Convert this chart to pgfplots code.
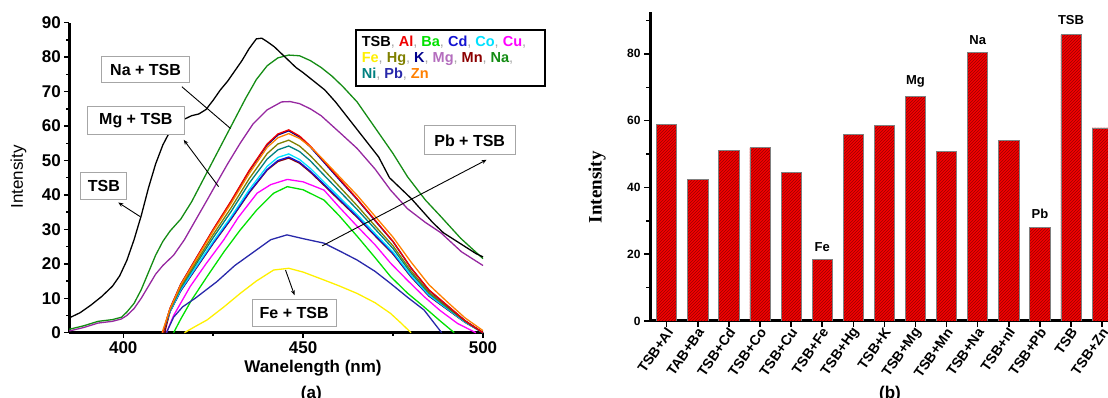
\documentclass[border=0pt]{standalone}
\usepackage{fontspec}
\setmainfont{Liberation Sans}
\newfontfamily\timesfont{Liberation Serif}
\usepackage{pgfplots}
\pgfplotsset{compat=1.18}
\usetikzlibrary{patterns,arrows.meta}
\pgfplotsset{/pgf/number format/assume math mode=true}

\definecolor{colTSB}{RGB}{0,0,0}
\definecolor{colAl}{RGB}{240,0,0}
\definecolor{colBa}{RGB}{0,225,0}
\definecolor{colCd}{RGB}{20,20,210}
\definecolor{colCo}{RGB}{0,225,255}
\definecolor{colCu}{RGB}{255,0,255}
\definecolor{colFe}{RGB}{255,240,0}
\definecolor{colHg}{RGB}{128,128,0}
\definecolor{colK}{RGB}{0,0,140}
\definecolor{colMg}{RGB}{150,40,160}
\definecolor{colMgT}{RGB}{180,110,190}
\definecolor{colMn}{RGB}{140,0,0}
\definecolor{colNa}{RGB}{20,140,20}
\definecolor{colNi}{RGB}{0,128,128}
\definecolor{colPb}{RGB}{40,40,170}
\definecolor{colZn}{RGB}{255,128,0}
\definecolor{barred}{RGB}{245,0,0}
\newcommand{\cma}{{\color{gray!70}\mdseries,}}

\begin{document}
\begin{tikzpicture}
\useasboundingbox (0,0) rectangle (1108pt,398pt);
% ---------------- panel (a) ----------------
\begin{axis}[
  at={(69.3pt,65.3pt)}, anchor=south west,
  scale only axis, width=413.7pt, height=310pt,
  xmin=385, xmax=500, ymin=0, ymax=90,
  clip=false,
  axis lines=left, axis line style={-, line width=2.5pt},
  xtick={400,450,500}, minor x tick num=1,
  ytick={0,10,...,90}, minor y tick num=1,
  tick align=outside, major tick length=5pt, minor tick length=3pt,
  every tick/.style={black, line width=1.5pt},
  ticklabel style={font=\bfseries\fontsize{17}{17}\selectfont},
  xlabel={Wanelength (nm)},
  xlabel style={at={(axis description cs:0.589,-0.114)}, anchor=center, font=\bfseries\fontsize{17}{17}\selectfont},
  ylabel={Intensity},
  ylabel style={at={(axis description cs:-0.123,0.503)}, anchor=center, font=\fontsize{17}{17}\selectfont},
  every axis plot/.append style={line width=1.3pt, mark=none},
]
% bundle
\addplot[colMn] coordinates {(411.5,0)(413,6.1)(416,12.2)(420,18.3)(425,25.9)(430,33.0)(435,40.6)(440,47.2)(443,49.7)(446,50.7)(449,49.2)(452,46.6)(455,43.6)(460,38.5)(465,33.5)(470,28.1)(475,22.8)(480,16.2)(485,10.6)(490,6.8)(495,3.0)(500,0)};
\addplot[colCd] coordinates {(411,0)(413,6.1)(416,12.2)(420,18.4)(425,26.0)(430,33.2)(435,40.8)(440,47.4)(443,50.0)(446,51.0)(449,49.5)(452,46.9)(455,43.9)(460,38.8)(465,33.7)(470,28.3)(475,23.0)(480,16.3)(485,10.7)(490,6.9)(495,3.1)(500,0)};
\addplot[colCo] coordinates {(411,0)(413,6.2)(416,12.5)(420,18.7)(425,26.5)(430,33.7)(435,41.5)(440,48.3)(443,50.9)(446,51.9)(449,50.3)(452,47.7)(455,44.6)(460,39.4)(465,34.3)(470,28.8)(475,23.4)(480,16.6)(485,10.9)(490,7.0)(495,3.1)(500,0)};
\addplot[colNi] coordinates {(411,0)(413,6.5)(416,13.0)(420,19.5)(425,27.6)(430,35.2)(435,43.4)(440,50.4)(443,53.1)(446,54.2)(449,52.6)(452,49.9)(455,46.6)(460,41.2)(465,35.8)(470,30.1)(475,24.4)(480,17.3)(485,11.4)(490,7.3)(495,3.3)(500,0)};
\addplot[colHg] coordinates {(411,0)(413,6.7)(416,13.4)(420,20.1)(425,28.5)(430,36.3)(435,44.7)(440,52.0)(443,54.8)(446,55.9)(449,54.2)(452,51.4)(455,48.1)(460,42.5)(465,36.9)(470,31.0)(475,25.2)(480,17.9)(485,11.7)(490,7.5)(495,3.4)(500,0)};
\addplot[colK] coordinates {(411,0)(413,7.0)(416,14.1)(420,21.1)(425,29.9)(430,38.1)(435,46.9)(440,54.5)(443,57.4)(446,58.6)(449,56.8)(452,53.9)(455,50.4)(460,44.5)(465,38.7)(470,32.5)(475,26.4)(480,18.8)(485,12.3)(490,7.9)(495,3.5)(500,0)};
\addplot[colAl] coordinates {(411,0)(413,7.1)(416,14.1)(420,21.2)(425,30.0)(430,38.3)(435,47.1)(440,54.8)(443,57.7)(446,58.9)(449,57.1)(452,54.2)(455,50.7)(460,44.8)(465,38.9)(470,32.7)(475,26.5)(480,18.8)(485,12.4)(490,8.0)(495,3.5)(500,0)};
\addplot[colZn] coordinates {(410.8,0)(413,6.9)(416,13.9)(420,20.8)(425,29.5)(430,37.6)(435,46.2)(440,53.8)(443,56.6)(446,57.8)(449,56.4)(452,54.0)(455,50.9)(460,45.4)(465,39.9)(470,33.8)(475,27.7)(480,20.5)(485,13.9)(490,9.0)(495,4.3)(500,0.6)};
% lower curves
\addplot[colCu] coordinates {(412,0)(414,5.0)(418.6,13.4)(423,20.0)(427.9,26.9)(432,33.5)(437.2,40.5)(441,43.0)(445.6,44.5)(450,43.8)(455.8,41.4)(460,36.5)(465.1,30.8)(470,25.5)(474.3,20.2)(479,15.2)(483.6,10.5)(488,6.5)(492.9,2.7)(498,0)};
\addplot[colBa] coordinates {(414,0)(416,4.0)(419,9.5)(423.3,16.3)(428,23.5)(432.5,29.8)(437,35.5)(441.8,40.5)(445.6,42.4)(450,41.5)(455.8,38.5)(460,34.0)(465.1,27.9)(470,21.8)(474.3,16.3)(479,11.5)(483.6,7.5)(488,3.5)(492,0)};
\addplot[colPb] coordinates {(412,0)(414,4.5)(416.5,7.5)(420,10.0)(426,14.8)(431,19.5)(437,24.0)(441,27.0)(445.5,28.4)(450,27.3)(455.8,26.0)(460,23.8)(465,21.1)(470,17.8)(474.3,14.3)(479,10.3)(483.6,6.6)(488.5,0)};
\addplot[colFe] coordinates {(417,0)(420,1.8)(423.3,3.7)(428,7.5)(432.5,11.4)(437,15.0)(441.8,18.2)(446,18.7)(450,17.6)(455.8,15.3)(460,13.6)(465,11.4)(470,8.7)(474.3,5.6)(477,3.0)(480,0)};
% upper curves
\addplot[colMg] coordinates {(385,0.5)(389,1.5)(393,2.8)(397,3.3)(399.5,4.0)(401,5.0)(403,7.0)(405,10.0)(407,13.5)(409,17.0)(411,19.5)(414,22.5)(417,27.0)(420,32.5)(423.3,38.5)(426,43.5)(429,49.0)(432.5,55.0)(436,60.5)(440,64.7)(444,67.0)(446.4,67.1)(449,66.5)(452,65.0)(455,63.0)(460.4,57.9)(465,53.5)(470,47.5)(474.3,41.4)(479,36.0)(484,32.0)(488.3,29.0)(494,23.5)(500,19.5)};
\addplot[colNa] coordinates {(385,1.0)(389,2.0)(393,3.3)(397,3.8)(399.5,4.5)(401,6.0)(403,8.5)(405,12.5)(407,17.5)(409,22.5)(411,26.5)(413,29.5)(416,33.0)(419,38.0)(422,44.0)(425,50.0)(428,56.0)(431,62.0)(434,68.0)(437,73.5)(440,77.5)(443,79.8)(446,80.6)(449,80.4)(452,79.0)(455,77.0)(458,74.5)(461,71.5)(465,67.0)(470,59.5)(475,52.0)(479,45.3)(484,38.5)(488.3,33.7)(493.8,27.4)(500,21.5)};
\addplot[colTSB] coordinates {(385,4.3)(388,5.8)(391,8.0)(394,10.5)(397,13.5)(399,16.5)(401,21.0)(403,27.0)(405,34.0)(407,42.0)(409,49.0)(411,54.5)(413,58.5)(415,61.0)(417,62.0)(419,63.0)(421,63.5)(423,64.8)(425,67.5)(427,70.5)(429,73.0)(431,76.0)(433,79.0)(435,82.5)(437,85.3)(438.5,85.5)(440,84.5)(442,83.0)(444,81.0)(446,79.0)(448,77.0)(450,75.5)(453,73.0)(456,70.5)(459,67.0)(462,63.0)(465,59.0)(468,55.0)(471,51.0)(474,45.0)(477,42.0)(480,39.0)(483,35.5)(486,32.0)(489,29.0)(492,27.0)(495,25.0)(498,23.0)(500,22.0)};
% annotations
\tikzset{annbox/.style={draw=gray!70, line width=1pt, fill=white, font=\bfseries\fontsize{16}{16}\selectfont, inner sep=0pt, anchor=center}}
\draw[line width=0.9pt] (axis cs:416.3,71.4) -- (axis cs:429.8,59.3);
\draw[line width=0.9pt, {Stealth[length=5pt,width=4pt]}-] (axis cs:416.8,56) -- (axis cs:426.5,42.4);
\draw[line width=0.9pt, {Stealth[length=5pt,width=4pt]}-] (axis cs:398.6,37.8) -- (axis cs:404.7,33.7);
\draw[line width=0.9pt, -{Stealth[length=5pt,width=4pt]}] (axis cs:455.3,25.2) -- (axis cs:501,50.2);
\draw[line width=0.9pt, -{Stealth[length=5pt,width=4pt]}] (axis cs:445.1,18.2) -- (axis cs:447.6,10.9);
\node[annbox, minimum width=88pt, minimum height=26pt] at (axis cs:406.2,76.4) {Na + TSB};
\node[annbox, minimum width=97pt, minimum height=28pt] at (axis cs:403.5,61.5) {Mg + TSB};
\node[annbox, minimum width=46pt, minimum height=27pt] at (axis cs:394.6,42.5) {TSB};
\node[annbox, minimum width=91pt, minimum height=29pt] at (axis cs:496.3,55.8) {Pb + TSB};
\node[annbox, minimum width=84pt, minimum height=27pt] at (axis cs:447.5,5.7) {Fe + TSB};
% legend box
\node[draw, line width=2.5pt, fill=white, anchor=north west, minimum width=189pt, minimum height=56pt, inner xsep=5pt, inner ysep=2pt, align=left, font=\bfseries\fontsize{14.5}{16}\selectfont] at (axis cs:464.3,88.2)
{\hbox to 177pt{{\color{colTSB}TSB}\cma\ {\color{colAl}Al}\cma\ {\color{colBa}Ba}\cma\ {\color{colCd}Cd}\cma\ {\color{colCo}Co}\cma\ {\color{colCu}Cu}\cma\hfil}\\
 {\color{colFe}Fe}\cma\ {\color{colHg}Hg}\cma\ {\color{colK}K}\cma\ {\color{colMgT}Mg}\cma\ {\color{colMn}Mn}\cma\ {\color{colNa}Na}\cma\\
 {\color{colNi}Ni}\cma\ {\color{colPb}Pb}\cma\ {\color{colZn}Zn}};
\node[font=\bfseries\fontsize{17}{17}\selectfont] at (axis description cs:0.585,-0.197) {(a)};
\end{axis}
% ---------------- panel (b) ----------------
\begin{axis}[
  at={(650pt,77pt)}, anchor=south west,
  scale only axis, width=458pt, height=309.2pt,
  xmin=-0.537, xmax=14.19, ymin=0, ymax=92.6,
  axis lines=left, axis line style={-, line width=3pt},
  ybar, bar width=20.2pt,
  xtick={0,...,14},
  xticklabels={TSB+Al,TAB+Ba,TSB+Cd,TSB+Co,TSB+Cu,TSB+Fe,TSB+Hg,TSB+K,TSB+Mg,TSB+Mn,TSB+Na,TSB+nI,TSB+Pb,TSB,TSB+Zn},
  xticklabel style={rotate=55, anchor=east, font=\bfseries\fontsize{14}{14}\selectfont, xshift=3pt, yshift=-4pt},
  ytick={0,20,...,80}, minor ytick={10,30,...,90},
  yticklabel style={font=\bfseries\fontsize{12}{12}\selectfont},
  tick align=outside, major tick length=6pt, minor tick length=4pt,
  every tick/.style={black, line width=1.5pt},
  ylabel={Intensity},
  ylabel style={at={(axis description cs:-0.1157,0.433)}, anchor=center, font=\timesfont\bfseries\fontsize{19}{19}\selectfont},
]
\addplot[fill=barred, draw=black!50, line width=0.8pt, postaction={pattern=north east lines, pattern color=red!60!black}] coordinates {
(0,58.9)(1,42.4)(2,51.0)(3,51.9)(4,44.4)(5,18.3)(6,55.9)(7,58.6)(8,67.2)(9,50.7)(10,80.4)(11,54.2)(12,28.0)(13,85.7)(14,57.8)};
\tikzset{barlab/.style={font=\bfseries\fontsize{13}{13}\selectfont, anchor=center}}
\node[barlab] at (axis cs:5,22) {Fe};
\node[barlab] at (axis cs:8,71.7) {Mg};
\node[barlab] at (axis cs:10,84.2) {Na};
\node[barlab] at (axis cs:12,32.1) {Pb};
\node[barlab] at (axis cs:13,90) {TSB};
\end{axis}
\node[font=\bfseries\fontsize{17}{17}\selectfont] at (890pt,4pt) {(b)};
\end{tikzpicture}
\end{document}
